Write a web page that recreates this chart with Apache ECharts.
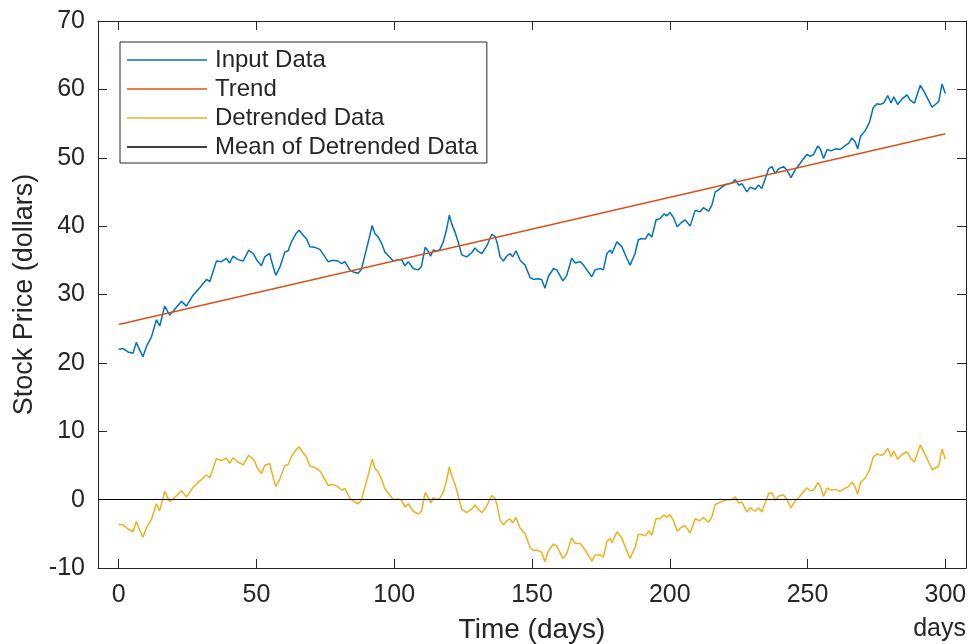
<!DOCTYPE html>
<html>
<head>
<meta charset="utf-8">
<script src="https://cdn.jsdelivr.net/npm/echarts@6/dist/echarts.min.js"></script>
<style>
html,body{margin:0;padding:0;background:#fff;}
#chart{width:969px;height:644px;}
</style>
</head>
<body>
<div id="chart"></div>
<script>
// ---- data ----
const days = [0,1.6,3.4,5.2,6.4,7.6,8.8,10.1,11.9,13.7,
14.9,16.7,18.5,20.3,22.8,24.6,27,29.4,31.9,33.1,
35.5,37.3,39.1,40.3,41.5,43.3,45.2,47.2,48.8,49.4,
50.2,51.8,53,54.8,55.4,57,58.5,60.3,61.5,62.7,
64.5,65.5,66.9,68.2,69.4,71.2,73,74.2,76,77.8,
79.6,80.9,82.1,83.9,85.1,86.9,88.1,89.4,90.9,92,
93,94.2,95.4,96.6,98.5,99.6,101.5,102.7,103.9,105.1,
106.9,108.7,109.9,111.2,112.4,113.2,114.2,115.4,116.6,117.8,
119,120,120.8,122,123.2,124.5,126.3,128.1,129.3,130.5,
131.8,133.6,135.4,136.6,137.4,138.4,139.6,140.8,142,143,
144.2,145.7,147.5,149.3,150.5,152,153.5,154.7,155.9,157.8,
159,161.2,162.6,164.4,165.7,167.5,168.7,169.9,171.7,172.9,
174.7,175.9,177.2,178.4,179,180.8,182.6,184.4,185.6,187.4,
188.6,189.8,191.1,192.3,193.5,195,196.5,198,198.9,200.1,
201.4,202.7,204.4,205.6,207.4,209.2,211,212.2,214.1,215.3,
216.5,217.7,218.9,220.1,221.3,222.6,223.8,225,226.2,228,
229.2,231,232.2,233.4,234.7,235.9,237.1,238.3,239.5,241.3,
242.5,244,245.6,246.8,248.6,249.8,251,252.2,253.7,254.6,
255.8,257.1,258.5,260.1,261.9,263.7,264.9,266.1,267.3,268.2,
269.2,271,272.5,273.8,275.2,276.4,277.6,279.1,280.3,281.3,
282.7,284.3,286.1,287.3,288.8,290.9,292.4,293.9,295.2,296.7,
297.6,298.8,299.4,300];

const inputData = [22.0,22.1,21.6,21.4,23.0,21.9,20.9,22.4,23.8,26.3,
25.4,28.3,27.0,27.8,29.0,28.3,29.9,31.0,32.2,31.9,
34.9,34.8,35.3,34.6,35.6,35.1,34.9,36.5,36.0,35.8,
35.0,34.2,35.5,36.0,35.0,32.8,34.0,36.2,36.4,37.7,
39.0,39.4,38.7,38.1,37.0,36.9,36.6,35.9,34.8,35.0,
34.9,34.5,34.8,33.6,33.3,33.1,33.7,35.8,38.2,40.1,
38.9,38.4,37.5,36.2,35.4,34.9,35.1,35.1,34.2,34.8,
33.8,33.6,34.1,36.9,36.3,35.6,36.5,36.3,36.6,37.7,
39.5,41.6,40.4,39.2,37.7,35.8,35.5,36.1,36.8,36.3,
36.0,37.1,38.8,38.5,37.5,35.5,34.9,35.6,36.0,35.5,
36.4,35.0,34.3,32.5,32.2,32.3,32.2,30.9,32.6,33.8,
33.6,32.0,32.8,35.3,34.6,34.8,34.3,33.6,32.6,33.6,
33.8,33.6,36.0,36.5,36.0,37.7,37.0,35.3,34.3,36.0,
38.0,38.2,38.1,38.9,38.4,40.9,41.1,41.8,41.5,42.0,
41.2,39.9,40.6,40.9,40.0,42.3,42.1,42.7,42.2,43.1,
45.0,45.3,45.7,46.0,46.2,46.3,46.8,46.0,46.2,45.0,
45.7,45.4,46.0,45.5,47.0,48.4,48.7,47.7,48.4,48.7,
48.2,47.1,48.3,48.9,49.9,50.5,50.2,50.5,51.7,51.3,
49.9,51.2,51.0,51.3,51.2,51.8,52.1,52.9,52.3,51.3,
53.1,54.0,55.2,57.3,57.9,57.8,58.0,59.1,58.0,58.9,
57.8,58.6,59.2,58.4,58.0,60.6,59.6,58.4,57.4,57.9,
58.2,60.8,60.9,59.4];

const detrendedData = [-3.6,-3.7,-4.3,-4.7,-3.2,-4.4,-5.5,-4.1,-2.9,-0.6,
-1.6,1.2,-0.3,0.3,1.3,0.4,1.8,2.7,3.6,3.2,
6.0,5.7,6.1,5.3,6.1,5.5,5.1,6.5,5.9,5.6,
4.7,3.8,5.0,5.3,4.3,1.9,3.0,5.0,5.1,6.3,
7.4,7.7,6.9,6.2,4.9,4.7,4.2,3.4,2.1,2.2,
1.9,1.4,1.6,0.2,-0.2,-0.6,-0.1,1.9,4.1,5.9,
4.6,4.0,3.0,1.6,0.6,0.0,0.1,-0.1,-1.1,-0.6,
-1.7,-2.1,-1.7,1.0,0.3,-0.5,0.3,0.0,0.2,1.1,
2.8,4.8,3.6,2.3,0.6,-1.4,-1.9,-1.4,-0.8,-1.4,
-1.9,-0.9,0.6,0.2,-0.9,-3.0,-3.7,-3.1,-2.8,-3.4,
-2.6,-4.2,-5.0,-7.0,-7.4,-7.4,-7.7,-9.1,-7.5,-6.5,
-6.8,-8.6,-7.9,-5.6,-6.4,-6.4,-7.0,-7.8,-9.0,-8.1,
-8.1,-8.4,-6.1,-5.7,-6.3,-4.7,-5.6,-7.5,-8.6,-7.0,
-5.1,-5.1,-5.3,-4.6,-5.2,-2.8,-2.8,-2.2,-2.6,-2.2,
-3.1,-4.6,-4.0,-3.8,-4.9,-2.8,-3.1,-2.6,-3.3,-2.5,
-0.7,-0.5,-0.3,-0.1,0.0,0.0,0.4,-0.5,-0.4,-1.8,
-1.2,-1.7,-1.2,-1.8,-0.4,0.9,1.0,-0.1,0.5,0.7,
0.0,-1.2,-0.1,0.3,1.2,1.7,1.3,1.4,2.5,2.0,
0.5,1.7,1.4,1.5,1.2,1.7,1.9,2.6,1.8,0.8,
2.5,3.2,4.3,6.2,6.7,6.5,6.6,7.5,6.3,7.1,
5.9,6.6,7.0,6.1,5.5,8.0,6.8,5.5,4.4,4.7,
4.9,7.4,7.5,5.9];

const trendDays = [0, 300];
const trendValues = [25.6, 53.5];
const detrendedMean = 0;

const xTicks = [0, 50, 100, 150, 200, 250, 300];
const seriesNames = ['Input Data', 'Trend', 'Detrended Data', 'Mean of Detrended Data'];
const xAxisName = 'Time (days)';
const yAxisName = 'Stock Price (dollars)';
const xUnitLabel = 'days';

// ---- chart ----
const FONT = '"Liberation Sans", Arial, Helvetica, sans-serif';
const INK = '#262626';
const pair = (xs, ys) => xs.map((x, i) => [x, ys[i]]);

const chart = echarts.init(document.getElementById('chart'));
const tickCommon = { show: true, inside: true, length: 9, lineStyle: { color: INK, width: 1 } };
const boxLine = { show: true, onZero: false, lineStyle: { color: INK, width: 1 } };

chart.setOption({
  animation: false,
  backgroundColor: '#fff',
  grid: { left: 98, top: 21, width: 868, height: 547, show: false, outerBoundsMode: 'none', containLabel: false },
  legend: {
    orient: 'vertical', left: 120, top: 42,
    icon: 'rect', itemWidth: 80, itemHeight: 1.5, itemGap: 5,
    padding: [6, 9, 4, 7],
    borderColor: INK, borderWidth: 1, backgroundColor: '#fff',
    textStyle: { fontFamily: FONT, fontSize: 24, color: INK, lineHeight: 23, padding: [0, 0, 0, 3] },
    data: seriesNames
  },
  xAxis: [
    {
      type: 'value', min: -7.5, max: 307.5, position: 'bottom',
      axisLine: boxLine, splitLine: { show: false },
      axisTick: Object.assign({ customValues: xTicks }, tickCommon),
      axisLabel: { customValues: xTicks, margin: 15, fontFamily: FONT, fontSize: 25, color: INK },
      name: xAxisName, nameLocation: 'middle', nameGap: 48,
      nameTextStyle: { fontFamily: FONT, fontSize: 28, color: INK }
    },
    {
      type: 'value', min: -7.5, max: 307.5, position: 'top',
      axisLine: boxLine, splitLine: { show: false },
      axisTick: Object.assign({ customValues: xTicks }, tickCommon),
      axisLabel: { show: false }
    }
  ],
  yAxis: [
    {
      type: 'value', min: -10, max: 70, interval: 10, position: 'left',
      axisLine: boxLine, splitLine: { show: false },
      axisTick: tickCommon,
      axisLabel: { margin: 13, fontFamily: FONT, fontSize: 25, color: INK },
      name: yAxisName, nameLocation: 'middle', nameGap: 54, nameRotate: 90,
      nameTextStyle: { fontFamily: FONT, fontSize: 27, color: INK }
    },
    {
      type: 'value', min: -10, max: 70, interval: 10, position: 'right',
      axisLine: boxLine, splitLine: { show: false },
      axisTick: tickCommon,
      axisLabel: { show: false }
    }
  ],
  graphic: [
    { type: 'text', right: 3, top: 617, style: { text: xUnitLabel, font: '25px ' + FONT, fill: INK } }
  ],
  series: [
    {
      name: seriesNames[0], type: 'line', xAxisIndex: 0, yAxisIndex: 0,
      data: pair(days, inputData), symbol: 'none', color: '#0072BD',
      lineStyle: { color: '#0072BD', width: 1.5 }
    },
    {
      name: seriesNames[1], type: 'line', xAxisIndex: 0, yAxisIndex: 0,
      data: pair(trendDays, trendValues), symbol: 'none', color: '#D95319',
      lineStyle: { color: '#D95319', width: 1.5 }
    },
    {
      name: seriesNames[2], type: 'line', xAxisIndex: 0, yAxisIndex: 0,
      data: pair(days, detrendedData), symbol: 'none', color: '#EDB120',
      lineStyle: { color: '#EDB120', width: 1.5 }
    },
    {
      name: seriesNames[3], type: 'line', xAxisIndex: 0, yAxisIndex: 0,
      data: [], symbol: 'none', color: '#000000',
      lineStyle: { color: '#000000', width: 1 },
      markLine: {
        silent: true, symbol: ['none', 'none'], label: { show: false },
        lineStyle: { color: '#000000', width: 1, type: 'solid' },
        emphasis: { disabled: true },
        data: [{ yAxis: detrendedMean }]
      }
    }
  ]
});
</script>
</body>
</html>
